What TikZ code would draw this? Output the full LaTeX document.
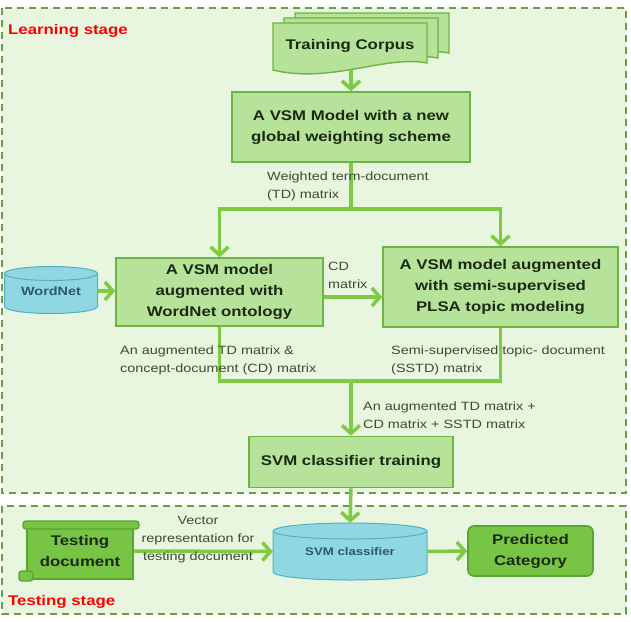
\documentclass[tikz,border=0pt]{standalone}
\usepackage{fontspec}
\setmainfont{Liberation Sans}[FakeStretch=1.2]
\usepackage{xcolor}
\usetikzlibrary{arrows.meta,positioning,calc}

\definecolor{bgGreen}{HTML}{E8F6DF}
\definecolor{dashGreen}{HTML}{6A9E45}
\definecolor{boxFill}{HTML}{B6E29A}
\definecolor{boxLine}{HTML}{6DB443}
\definecolor{flowGreen}{HTML}{7CCB43}
\definecolor{dbFill}{HTML}{8FD8E3}
\definecolor{dbLine}{HTML}{55AFC0}
\definecolor{dbText}{HTML}{2D5A66}
\definecolor{predFill}{HTML}{78C545}
\definecolor{predLine}{HTML}{58A532}
\definecolor{inkDark}{HTML}{1B2A12}

% database drum: centre, half width, half height, end radius
\newcommand{\dbshape}[4]{%
  \filldraw[dbbody] ($(#1)+(-#2,-#3)$) -- ($(#1)+(-#2,#3)$)
    arc[start angle=180,end angle=360,x radius=#2pt,y radius=#4pt]
    -- ($(#1)+(#2,-#3)$)
    arc[start angle=0,end angle=180,x radius=#2pt,y radius=#4pt] -- cycle;
  \draw[dbbody,fill=none] ($(#1)+(#2,-#3)$)
    arc[start angle=0,end angle=-180,x radius=#2pt,y radius=#4pt];
}

\begin{document}
\begin{tikzpicture}[x=1pt,y=-1pt,
  stage/.style={draw=dashGreen,fill=bgGreen,line width=1.6pt,dash pattern=on 7pt off 5pt},
  procbox/.style={draw=boxLine,fill=boxFill,line width=1.6pt,align=center,
    font=\fontsize{14}{21}\selectfont\bfseries,text=inkDark},
  note/.style={align=left,inner sep=0pt,font=\fontsize{12}{18}\selectfont,text=inkDark!85},
  stagelabel/.style={text=red,font=\fontsize{14}{16}\selectfont\bfseries,inner sep=0pt},
  dbtext/.style={text=dbText,font=\fontsize{12}{14}\selectfont\bfseries,inner sep=0pt},
  flow/.style={draw=flowGreen,line width=3.5pt,-{Straight Barb[length=8pt,width=18pt]}},
  flowline/.style={draw=flowGreen,line width=3.5pt},
  docpage/.style={draw=boxLine,fill=boxFill,line width=1.4pt},
  scroll/.style={draw=predLine,fill=predFill,line width=1.4pt},
  dbbody/.style={draw=dbLine,fill=dbFill,line width=1pt}]

  \useasboundingbox (0,0) rectangle (631,621);
  \fill[white] (0,0) rectangle (631,621);

  % Stage frames
  \draw[stage] (2,8) rectangle (626,493);
  \draw[stage] (2,506) rectangle (626,614);
  \node[stagelabel,anchor=west] (learnlab) at (8,31) {Learning stage};
  \node[stagelabel,anchor=west] (testlab) at (8,602) {Testing stage};

  % Training corpus (stacked pages)
  \foreach \dx/\dy in {22/-10,11/-5,0/0} {
    \filldraw[docpage,shift={(\dx,\dy)}] (273,23) -- (427,23) -- (427,63)
      .. controls (385,55) and (330,84) .. (273,70) -- cycle;
  }
  \node[procbox,draw=none,fill=none] (corpus) at (350,46) {Training Corpus};
  \coordinate (corpusfoot) at (351,70);

  % Learning boxes
  \node[procbox,minimum width=238pt,minimum height=70pt] (weight) at (351,127)
    {A VSM Model with a new\\global weighting scheme};
  \node[procbox,minimum width=207pt,minimum height=68pt] (wordbox) at (219.5,292)
    {A VSM model\\augmented with\\WordNet ontology};
  \node[procbox,minimum width=235pt,minimum height=80pt] (plsa) at (500.5,287)
    {A VSM model augmented\\with semi-supervised\\PLSA topic modeling};
  \node[procbox,minimum width=204pt,minimum height=51pt] (train) at (351,462)
    {SVM classifier training};

  % WordNet drum
  \dbshape{51,290}{46.5}{16.5}{7}
  \node[dbtext,minimum width=93pt,minimum height=33pt] (wordnet) at (51,291) {WordNet};

  % Connectors, learning stage
  \coordinate (split) at (351,209);
  \coordinate (merge) at (351,381);
  \coordinate (cdrow) at (0,297);
  \draw[flow] (corpusfoot) -- (weight.north);
  \draw[flowline] (weight.south) -- (split);
  \draw[flow] (split) -| (wordbox.north);
  \draw[flow] (split) -| (plsa.north);
  \draw[flow] (wordnet.east) -- (wordnet.east -| wordbox.west);
  \draw[flow] (wordbox.east |- cdrow) -- (plsa.west |- cdrow);
  \draw[flowline] (wordbox.south) |- (merge);
  \draw[flowline] (plsa.south) |- (merge);
  \draw[flow] (merge) -- (train.north);

  % Connector labels
  \node[note,anchor=north west] (tdlab) at (267,172) {Weighted term-document\\(TD) matrix};
  \node[note,anchor=north west] (cdlab) at (328,262) {CD\\matrix};
  \node[note,anchor=north west] (auglab) at (120,346) {An augmented TD matrix \&\\concept-document (CD) matrix};
  \node[note,anchor=north west] (sstdlab) at (391,346) {Semi-supervised topic- document\\(SSTD) matrix};
  \node[note,anchor=north west] (alllab) at (363,402) {An augmented TD matrix +\\CD matrix + SSTD matrix};

  % Testing document (scroll)
  \filldraw[scroll] (27,526) rectangle (133,579);
  \filldraw[scroll,rounded corners=3pt] (23,521) rectangle (139,529);
  \filldraw[scroll,rounded corners=3pt] (19,571) rectangle (33,581);
  \node[procbox,draw=none,fill=none,minimum width=106pt,minimum height=51pt] (testdoc) at (80,551)
    {Testing\\document};

  % SVM classifier drum
  \dbshape{350,551.5}{77}{20.5}{8}
  \node[dbtext,font=\fontsize{11}{13}\selectfont\bfseries,minimum width=154pt,minimum height=41pt]
    (svm) at (350,551.5) {SVM classifier};
  \coordinate (svmtop) at ($(svm.north)+(0,-8)$);

  % Predicted category
  \node[procbox,draw=predLine,fill=predFill,rounded corners=6pt,
    minimum width=125pt,minimum height=50pt] (pred) at (530.5,551) {Predicted\\Category};

  % Connectors, testing stage
  \draw[flow] (train.south) -- (svmtop);
  \draw[flow] (testdoc.east) -- (svm.west);
  \draw[flow] (svm.east) -- (pred.west);
  \node[note,align=center,anchor=north] (veclab) at (198,516)
    {Vector\\representation for\\testing document};
\end{tikzpicture}
\end{document}
